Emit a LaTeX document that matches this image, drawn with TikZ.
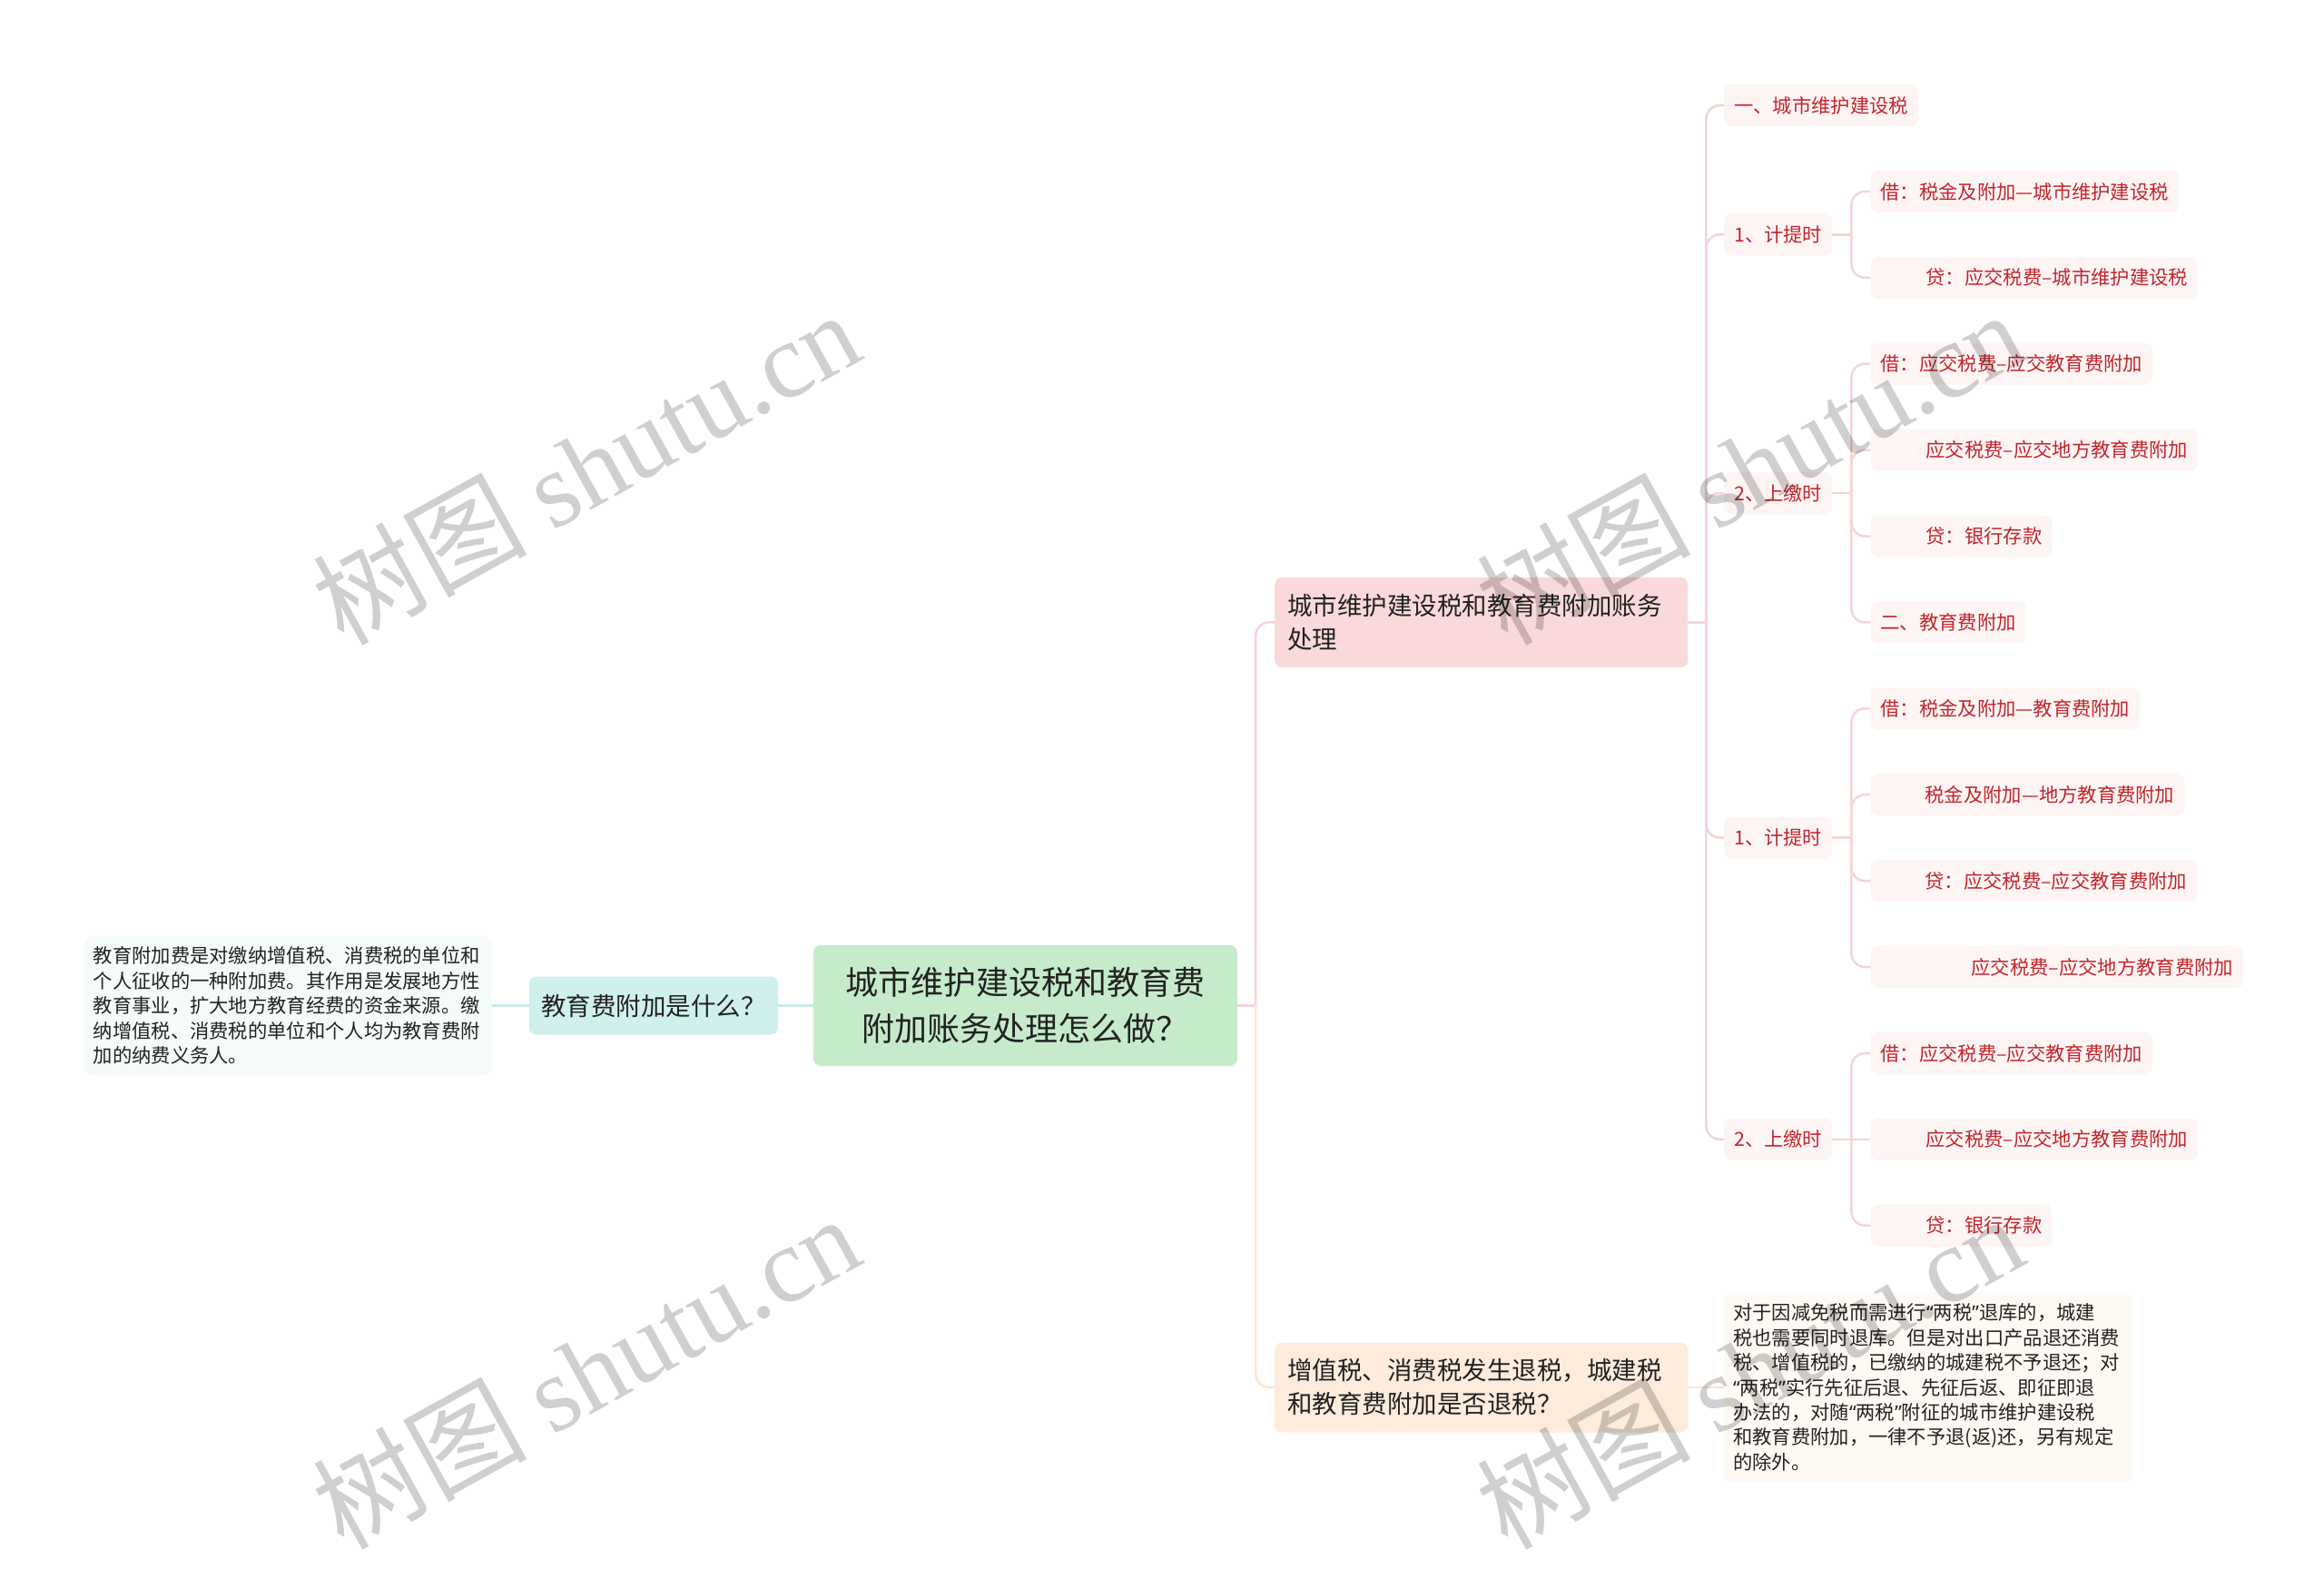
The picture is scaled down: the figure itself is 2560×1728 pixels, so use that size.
\documentclass[tikz,border=0pt]{standalone}
\usepackage{fontspec}
\setmainfont{Noto Sans CJK SC}
\newfontfamily\wmcjkfont{Noto Sans CJK SC}
\newfontfamily\wmlatfont{Liberation Serif}
\newfontfamily\narrowquotefont{Noto Sans}
\newcommand\myoq{{\narrowquotefont “}}
\newcommand\mycq{{\narrowquotefont ”}}
\usetikzlibrary{calc}
\definecolor{rootfill}{RGB}{197,235,203}
\definecolor{qfill}{RGB}{207,240,236}
\definecolor{qdfill}{RGB}{245,251,251}
\definecolor{bonefill}{RGB}{250,217,218}
\definecolor{btwofill}{RGB}{253,235,220}
\definecolor{dtwofill}{RGB}{254,249,243}
\definecolor{leaffill}{RGB}{253,244,244}
\definecolor{leaftext}{RGB}{192,38,44}
\definecolor{darktext}{RGB}{34,34,34}
\definecolor{pinkline}{RGB}{245,212,213}
\definecolor{peachline}{RGB}{252,230,212}
\definecolor{tealline}{RGB}{200,236,232}
\tikzset{
  boxbase/.style={rounded corners=8pt, inner ysep=0pt},
  rootnode/.style={boxbase, fill=rootfill, text=darktext, align=center, text width=420pt, inner xsep=23.5pt, minimum height=133pt, font=\fontsize{36}{51}\selectfont},
  qnode/.style={boxbase, fill=qfill, text=darktext, minimum width=274pt, minimum height=64pt, inner xsep=0pt, font=\fontsize{27.5}{33}\selectfont},
  branchnode/.style={boxbase, text=darktext, align=left, text width=427pt, inner xsep=14pt, minimum height=99pt, font=\fontsize{27.5}{37}\selectfont},
  descnode/.style={boxbase, text=darktext, align=left, text width=429pt, inner xsep=10pt, inner ysep=12pt, font=\fontsize{21.3}{27.4}\selectfont},
  leafnode/.style={boxbase, fill=leaffill, text=leaftext, inner xsep=11pt, minimum height=46pt, anchor=west, font=\fontsize{21.3}{26}\selectfont},
  conn/.style={line width=2.5pt, rounded corners=15pt},
  watermark/.style={rotate=29, text=black, text opacity=0.19, inner sep=0pt}
}
\begin{document}
\begin{tikzpicture}[x=1pt,y=-1pt]
\useasboundingbox (0,0) rectangle (2560,1728);
\fill[white] (0,0) rectangle (2560,1728);

% root and left side
\node[rootnode] (root) at (1129.5,1107.5) {城市维护建设税和教育费\\附加账务处理怎么做？};
\node[qnode] (q) at (720,1107.5) {教育费附加是什么？};
\node[descnode, fill=qdfill, anchor=east] (qd) at (542,1107.5) {教育附加费是对缴纳增值税、消费税的单位和\\个人征收的一种附加费。其作用是发展地方性\\教育事业，扩大地方教育经费的资金来源。缴\\纳增值税、消费税的单位和个人均为教育费附\\加的纳费义务人。};

% branches
\node[branchnode, fill=bonefill, anchor=west] (b1) at (1404,685.4) {城市维护建设税和教育费附加账务\\处理};
\node[branchnode, fill=btwofill, anchor=west] (b2) at (1404,1528) {增值税、消费税发生退税，城建税\\和教育费附加是否退税？};
\node[descnode, fill=dtwofill, anchor=west] (d2) at (1899,1528) {对于因减免税而需进行\myoq 两税\mycq 退库的，城建\\税也需要同时退库。但是对出口产品退还消费\\税、增值税的，已缴纳的城建税不予退还；对\\\myoq 两税\mycq 实行先征后退、先征后返、即征即退\\办法的，对随\myoq 两税\mycq 附征的城市维护建设税\\和教育费附加，一律不予退(返)还，另有规定\\的除外。};

% level 2
\node[leafnode] (a) at (1899,116) {一、城市维护建设税};
\node[leafnode] (p1) at (1899,258.4) {1、计提时};
\node[leafnode] (s1) at (1899,543) {2、上缴时};
\node[leafnode] (p2) at (1899,922.6) {1、计提时};
\node[leafnode] (s2) at (1899,1254.8) {2、上缴时};

\coordinate (p1c) at ($(p1.east)+(42,0)$);
\coordinate (s1c) at ($(s1.east)+(42,0)$);
\coordinate (p2c) at ($(p2.east)+(42,0)$);
\coordinate (s2c) at ($(s2.east)+(42,0)$);

% leaves
\node[leafnode] (p1a) at (p1c |- 0,210.9) {借：税金及附加—城市维护建设税};
\node[leafnode] (p1b) at (p1c |- 0,305.8) {\hspace*{50pt}贷：应交税费–城市维护建设税};
\node[leafnode] (s1a) at (s1c |- 0,400.7) {借：应交税费–应交教育费附加};
\node[leafnode] (s1b) at (s1c |- 0,495.6) {\hspace*{50pt}应交税费–应交地方教育费附加};
\node[leafnode] (s1c2) at (s1c |- 0,590.5) {\hspace*{50pt}贷：银行存款};
\node[leafnode] (s1d) at (s1c |- 0,685.4) {二、教育费附加};
\node[leafnode] (p2a) at (p2c |- 0,780.3) {借：税金及附加—教育费附加};
\node[leafnode] (p2b) at (p2c |- 0,875.2) {\hspace*{49pt}税金及附加—地方教育费附加};
\node[leafnode] (p2c2) at (p2c |- 0,970.1) {\hspace*{49pt}贷：应交税费–应交教育费附加};
\node[leafnode] (p2d) at (p2c |- 0,1065) {\hspace*{100pt}应交税费–应交地方教育费附加};
\node[leafnode] (s2a) at (s2c |- 0,1159.9) {借：应交税费–应交教育费附加};
\node[leafnode] (s2b) at (s2c |- 0,1254.8) {\hspace*{50pt}应交税费–应交地方教育费附加};
\node[leafnode] (s2c2) at (s2c |- 0,1349.7) {\hspace*{50pt}贷：银行存款};

% connectors: left side
\draw[conn, tealline] (root.west) -- (q.east);
\draw[conn, tealline] (q.west) -- (qd.east);

% root to branches
\draw[conn, pinkline] (root.east) -- ++(20,0) coordinate (jr);
\draw[conn, pinkline] (jr) |- (b1.west);
\draw[conn, peachline] (jr) |- (b2.west);
\draw[conn, peachline] (b2.east) -- (b2.east -| d2.west);

% branch 1 to level 2
\draw[conn, pinkline] (b1.east) -- ++(20,0) coordinate (j1);
\foreach \c in {a,p1,s1,p2,s2} \draw[conn, pinkline] (j1) |- (\c.west);

% level 2 to leaves
\draw[conn, pinkline] (p1.east) -- ++(21,0) coordinate (jp1);
\foreach \c in {p1a,p1b} \draw[conn, pinkline] (jp1) |- (\c.west);
\draw[conn, pinkline] (s1.east) -- ++(21,0) coordinate (js1);
\foreach \c in {s1a,s1b,s1c2,s1d} \draw[conn, pinkline] (js1) |- (\c.west);
\draw[conn, pinkline] (p2.east) -- ++(21,0) coordinate (jp2);
\foreach \c in {p2a,p2b,p2c2,p2d} \draw[conn, pinkline] (jp2) |- (\c.west);
\draw[conn, pinkline] (s2.east) -- ++(21,0) coordinate (js2);
\foreach \c in {s2a,s2c2} \draw[conn, pinkline] (js2) |- (\c.west);
\draw[conn, pinkline] (js2) -- (s2b.west);

% watermarks
\foreach \wx/\wy [count=\i] in {645/514, 1927/514, 645/1510, 1927/1510}
  \node[watermark] (wm\i) at (\wx,\wy) {\fontsize{118}{130}\selectfont{\wmcjkfont 树图} {\wmlatfont shutu.cn}};
\end{tikzpicture}
\end{document}
